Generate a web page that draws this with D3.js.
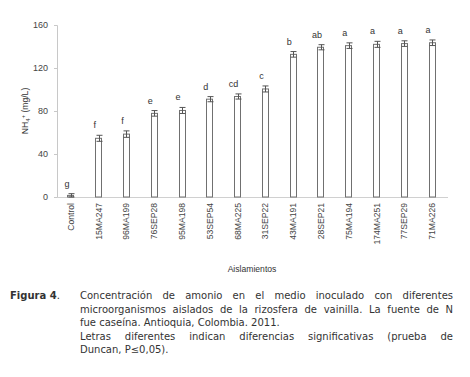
<!DOCTYPE html>
<html>
<head>
<meta charset="utf-8">
<script src="https://cdn.jsdelivr.net/npm/d3@7"></script>
<style>
  body { margin: 0; background: #fff; }
  svg { display: block; }
</style>
</head>
<body>
<svg id="canvas"></svg>
<script>
// data
const categories = ["Control", "15MA247", "96MA199", "76SEP28", "95MA198", "53SEP54", "68MA225",
  "31SEP22", "43MA191", "28SEP21", "75MA194", "174MA251", "77SEP29", "71MA226"];
const values = [1.5, 54.6, 58.5, 77.8, 80.5, 91, 93.5, 100.5, 132.7, 139.3, 140.8, 142, 142.7, 143.5];
const errors = [1.6, 2.8, 3, 2.6, 2.8, 2.4, 2.4, 2.8, 2.6, 2.4, 2.6, 2.8, 2.6, 2.6];
const letters = ["g", "f", "f", "e", "e", "d", "cd", "c", "b", "ab", "a", "a", "a", "a"];
const yTicks = [0, 40, 80, 120, 160];

const captionLabel = "Figura 4";
const captionLines = [
  { text: "Concentración de amonio en el medio inoculado con diferentes", justify: true },
  { text: "microorganismos aislados de la rizosfera de vainilla. La fuente de N", justify: true },
  { text: "fue caseína. Antioquia, Colombia. 2011.", justify: false },
  { text: "Letras diferentes indican diferencias significativas (prueba de", justify: true },
  { text: "Duncan, P≤0,05).", justify: false }
];

const width = 470;
const height = 377;
const plot = { left: 57, right: 446, top: 25, bottom: 197 };

const svg = d3.select("#canvas")
  .attr("width", width)
  .attr("height", height)
  .attr("viewBox", [0, 0, width, height]);

svg.append("rect").attr("width", width).attr("height", height).attr("fill", "#fff");

const x = d3.scaleBand()
  .domain(categories)
  .range([plot.left, plot.right])
  .paddingInner(0.75)
  .paddingOuter(0.375);

const y = d3.scaleLinear()
  .domain([0, 160])
  .range([plot.bottom, plot.top]);

const font = "'Liberation Sans', Arial, sans-serif";

// y axis
const yAxis = svg.append("g")
  .attr("transform", `translate(${plot.left},0)`)
  .call(d3.axisLeft(y).tickValues(yTicks).tickSize(3).tickPadding(6));
yAxis.select(".domain").attr("stroke", "#c8c8c8");
yAxis.selectAll(".tick line").attr("stroke", "#c8c8c8");
yAxis.selectAll(".tick text")
  .attr("font-family", font)
  .attr("font-size", "9px")
  .attr("fill", "#444");

// x axis
const xAxis = svg.append("g")
  .attr("transform", `translate(0,${plot.bottom})`)
  .call(d3.axisBottom(x).tickSize(0).tickPadding(0));
xAxis.select(".domain").attr("stroke", "#d0d0d0").attr("d", `M${plot.left},0.5H${plot.right + 2}`);
xAxis.selectAll(".tick text")
  .attr("font-family", font)
  .attr("font-size", "8.6px")
  .attr("fill", "#444")
  .attr("text-anchor", "end")
  .attr("dy", "0.35em")
  .attr("transform", "translate(0,6) rotate(-90)")
  .attr("x", 0)
  .attr("y", 0);

// bars
const bw = x.bandwidth();
svg.append("g").selectAll("rect")
  .data(categories)
  .join("rect")
  .attr("x", d => Math.round(x(d)) + 0.5)
  .attr("y", (d, i) => y(values[i]))
  .attr("width", Math.round(bw) - 1)
  .attr("height", (d, i) => y(0) - y(values[i]))
  .attr("fill", "#fff")
  .attr("stroke", "#707070")
  .attr("stroke-width", 1);

// error bars
const eg = svg.append("g").attr("stroke", "#555").attr("stroke-width", 1);
categories.forEach((c, i) => {
  const cx = Math.round(x(c) + bw / 2) + 0.5;
  const y1 = y(values[i] + errors[i]);
  const y0 = y(Math.max(0, values[i] - errors[i]));
  eg.append("line").attr("x1", cx).attr("x2", cx).attr("y1", y1).attr("y2", y0);
  eg.append("line").attr("x1", cx - 3).attr("x2", cx + 3).attr("y1", y1).attr("y2", y1);
  eg.append("line").attr("x1", cx - 3).attr("x2", cx + 3).attr("y1", y0).attr("y2", y0);
});

// significance letters
svg.append("g").selectAll("text")
  .data(categories)
  .join("text")
  .attr("x", d => x(d) + bw / 2 - 4)
  .attr("y", (d, i) => y(values[i] + errors[i]) - 7)
  .attr("text-anchor", "middle")
  .attr("font-family", font)
  .attr("font-size", "9px")
  .attr("fill", "#333")
  .text((d, i) => letters[i]);

// axis titles
const yLabel = svg.append("text")
  .attr("transform", `translate(28,${(plot.top + plot.bottom) / 2}) rotate(-90)`)
  .attr("text-anchor", "middle")
  .attr("font-family", font)
  .attr("font-size", "8.6px")
  .attr("fill", "#333");
yLabel.append("tspan").text("NH");
yLabel.append("tspan").attr("font-size", "6px").attr("dy", "2").text("4");
yLabel.append("tspan").attr("font-size", "6px").attr("dy", "-5").text("+");
yLabel.append("tspan").attr("dy", "3").text(" (mg/L)");

svg.append("text")
  .attr("x", 252)
  .attr("y", 272)
  .attr("text-anchor", "middle")
  .attr("font-family", font)
  .attr("font-size", "8.6px")
  .attr("fill", "#333")
  .text("Aislamientos");

// caption
const capFont = "'DejaVu Sans', Verdana, sans-serif";
const capSize = 10;
const capX = 80;
const capRight = 453;
const lineH = 13.5;
const cap = svg.append("g")
  .attr("font-family", capFont)
  .attr("font-size", capSize + "px")
  .attr("fill", "#333");

const lab = cap.append("text")
  .attr("x", 10)
  .attr("y", 299);
lab.append("tspan").attr("font-weight", "bold").text(captionLabel);
lab.append("tspan").text(".");

captionLines.forEach((line, li) => {
  const ly = 299 + li * lineH;
  if (!line.justify) {
    cap.append("text").attr("x", capX).attr("y", ly).text(line.text);
    return;
  }
  const words = line.text.split(" ");
  const widths = words.map(w => {
    const t = cap.append("text").attr("x", -999).attr("y", -999).text(w);
    const wd = t.node().getComputedTextLength();
    t.remove();
    return wd;
  });
  const gap = (capRight - capX - d3.sum(widths)) / (words.length - 1);
  let cx = capX;
  words.forEach((w, i) => {
    cap.append("text").attr("x", cx).attr("y", ly).text(w);
    cx += widths[i] + gap;
  });
});
</script>
</body>
</html>
